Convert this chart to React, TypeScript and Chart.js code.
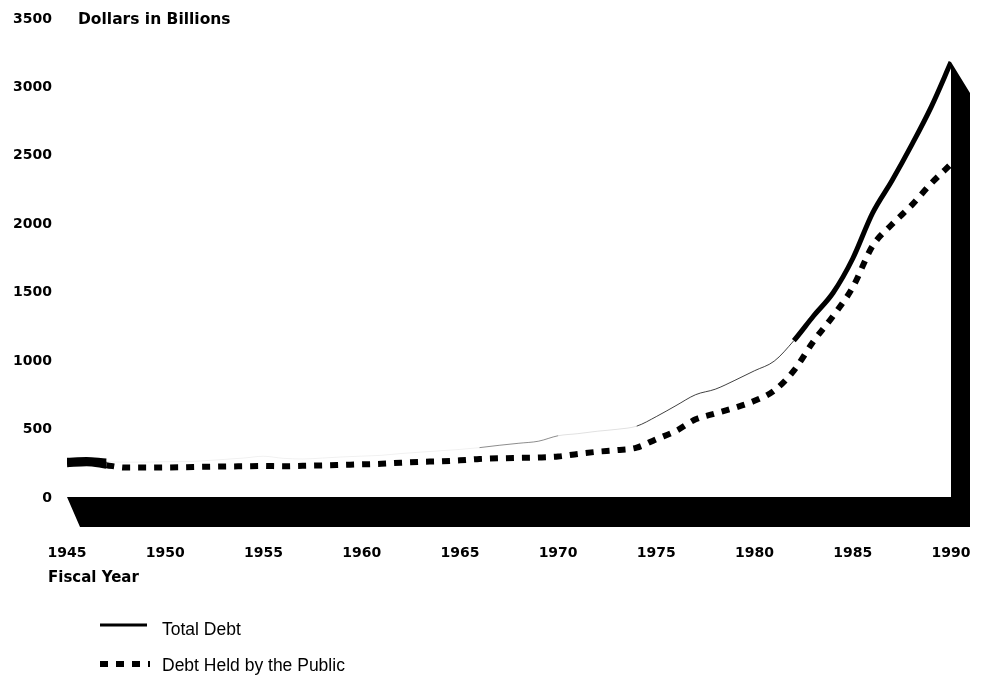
import React, { useEffect, useRef } from 'react';
import { Chart, registerables } from 'chart.js';

Chart.register(...registerables);

const years = [
  1945, 1946, 1947, 1948, 1949, 1950, 1951, 1952, 1953, 1954,
  1955, 1956, 1957, 1958, 1959, 1960, 1961, 1962, 1963, 1964,
  1965, 1966, 1967, 1968, 1969, 1970, 1971, 1972, 1973, 1974,
  1975, 1976, 1977, 1978, 1979, 1980, 1981, 1982, 1983, 1984,
  1985, 1986, 1987, 1988, 1989, 1990,
];

const totalDebt = [
  272, 278, 266, 262, 262, 265, 266, 272, 282, 292,
  305, 290, 285, 292, 300, 306, 312, 325, 335, 345,
  355, 368, 385, 400, 415, 455, 470, 488, 502, 525,
  595, 675, 755, 795, 860, 930, 1000, 1150, 1330, 1500,
  1750, 2080, 2320, 2580, 2860, 3185,
];

const publicDebt = [
  250, 258, 240, 222, 222, 223, 225, 228, 230, 232,
  234, 232, 235, 238, 242, 246, 250, 258, 264, 268,
  275, 285, 290, 293, 296, 303, 322, 338, 350, 368,
  430, 490, 575, 618, 660, 710, 785, 930, 1145, 1330,
  1540, 1840, 2000, 2140, 2300, 2440,
];

const xTickValues = [1945, 1950, 1955, 1960, 1965, 1970, 1975, 1980, 1985, 1990];
const yTickValues = [0, 500, 1000, 1500, 2000, 2500, 3000, 3500];
const yAxisTitle = 'Dollars in Billions';
const xAxisTitle = 'Fiscal Year';
const seriesNames = ['Total Debt', 'Debt Held by the Public'];

const BOLD = "'DejaVu Sans', 'Liberation Sans', Arial, sans-serif";
const REG = "'Liberation Sans', Arial, sans-serif";

export default function App() {
  const ref = useRef<HTMLCanvasElement>(null);

  useEffect(() => {
    if (!ref.current) return;

    const decor = {
      id: 'decor',
      beforeDatasetsDraw(chart: any) {
        const { ctx } = chart;
        const xs = chart.scales.x;
        const ys = chart.scales.y;
        const xl = xs.getPixelForValue(years[0]);
        const xr = xs.getPixelForValue(years[years.length - 1]);
        const y0 = ys.getPixelForValue(0);
        const yTop = ys.getPixelForValue(totalDebt[totalDebt.length - 1]);
        ctx.save();
        ctx.fillStyle = '#000';
        ctx.beginPath();
        ctx.moveTo(xl, y0 - 1);
        ctx.lineTo(xr, y0 - 1);
        ctx.lineTo(xr, yTop);
        ctx.lineTo(xr + 19, yTop + 31);
        ctx.lineTo(xr + 19, y0 + 29);
        ctx.lineTo(xl + 13, y0 + 29);
        ctx.closePath();
        ctx.fill();
        ctx.restore();
      },
      afterDraw(chart: any) {
        const { ctx, chartArea } = chart;
        ctx.save();
        ctx.fillStyle = '#000';
        ctx.textBaseline = 'middle';
        ctx.textAlign = 'left';
        ctx.font = `bold 15.5px ${BOLD}`;
        ctx.fillText(yAxisTitle, chartArea.left + 11, chartArea.top + 1);
        ctx.font = `bold 15px ${BOLD}`;
        ctx.fillText(xAxisTitle, chartArea.left - 19, chartArea.bottom + 80);

        // legend
        const lx = 100;
        const y1 = chartArea.bottom + 127;
        const y2 = chartArea.bottom + 166;
        ctx.strokeStyle = '#000';
        ctx.lineWidth = 3;
        ctx.setLineDash([]);
        ctx.beginPath();
        ctx.moveTo(lx, y1);
        ctx.lineTo(lx + 47, y1);
        ctx.stroke();
        ctx.lineWidth = 6;
        ctx.setLineDash([8, 8]);
        ctx.beginPath();
        ctx.moveTo(lx, y2);
        ctx.lineTo(lx + 50, y2);
        ctx.stroke();
        ctx.setLineDash([]);
        ctx.font = `17.5px ${REG}`;
        ctx.fillText(seriesNames[0], 162, y1 + 5);
        ctx.fillText(seriesNames[1], 162, y2 + 2);
        ctx.restore();
      },
    };

    const totalWidth = (i: number) => {
      if (i < 2) return 6;
      if (i < 37) return 1;
      return 5;
    };
    const totalColor = (i: number) => {
      if (i < 2) return '#000';
      if (i < 21) return 'rgba(0,0,0,0.06)';
      if (i < 25) return 'rgba(0,0,0,0.45)';
      if (i < 29) return 'rgba(0,0,0,0.12)';
      if (i < 37) return 'rgba(0,0,0,0.75)';
      return '#000';
    };

    const chart = new Chart(ref.current, {
      type: 'line',
      data: {
        labels: years,
        datasets: [
          {
            label: seriesNames[0],
            data: totalDebt,
            borderColor: '#000',
            borderWidth: 5,
            pointRadius: 0,
            cubicInterpolationMode: 'monotone',
            segment: {
              borderWidth: (c: any) => totalWidth(c.p0DataIndex),
              borderColor: (c: any) => totalColor(c.p0DataIndex),
            },
          },
          {
            label: seriesNames[1],
            data: publicDebt,
            borderColor: '#000',
            borderWidth: 6,
            borderDash: [8, 8],
            borderCapStyle: 'butt',
            pointRadius: 0,
            cubicInterpolationMode: 'monotone',
            segment: {
              borderDash: (c: any) => (c.p0DataIndex < 2 ? [] : [8, 8]),
              borderWidth: (c: any) => (c.p0DataIndex < 2 ? 7 : 6),
            },
          },
        ],
      },
      options: {
        animation: false,
        responsive: true,
        maintainAspectRatio: false,
        layout: { padding: { top: 19, right: 37, left: 0, bottom: 0 } },
        plugins: { legend: { display: false }, tooltip: { enabled: false } },
        scales: {
          x: {
            type: 'linear',
            min: years[0],
            max: years[years.length - 1],
            grid: { display: false, drawTicks: true, tickLength: 47 },
            border: { display: false },
            afterBuildTicks: (s: any) => {
              s.ticks = xTickValues.map((v) => ({ value: v }));
            },
            afterFit: (s: any) => {
              s.height = 183;
            },
            ticks: {
              padding: 0,
              color: '#000',
              maxRotation: 0,
              autoSkip: false,
              font: { family: BOLD, weight: 'bold', size: 14 },
              callback: (v: any) => String(v),
            },
          },
          y: {
            min: 0,
            max: 3500,
            grid: { display: false, drawTicks: true, tickLength: 15 },
            border: { display: false },
            afterBuildTicks: (s: any) => {
              s.ticks = yTickValues.map((v) => ({ value: v }));
            },
            afterFit: (s: any) => {
              s.width = 67;
            },
            ticks: {
              padding: 0,
              color: '#000',
              autoSkip: false,
              font: { family: BOLD, weight: 'bold', size: 14 },
              callback: (v: any) => String(v),
            },
          },
        },
      },
      plugins: [decor],
    } as any);

    return () => chart.destroy();
  }, []);

  return (
    <div style={{ position: 'fixed', left: 0, top: 0, width: 988, height: 681, background: '#fff' }}>
      <canvas ref={ref} />
    </div>
  );
}
